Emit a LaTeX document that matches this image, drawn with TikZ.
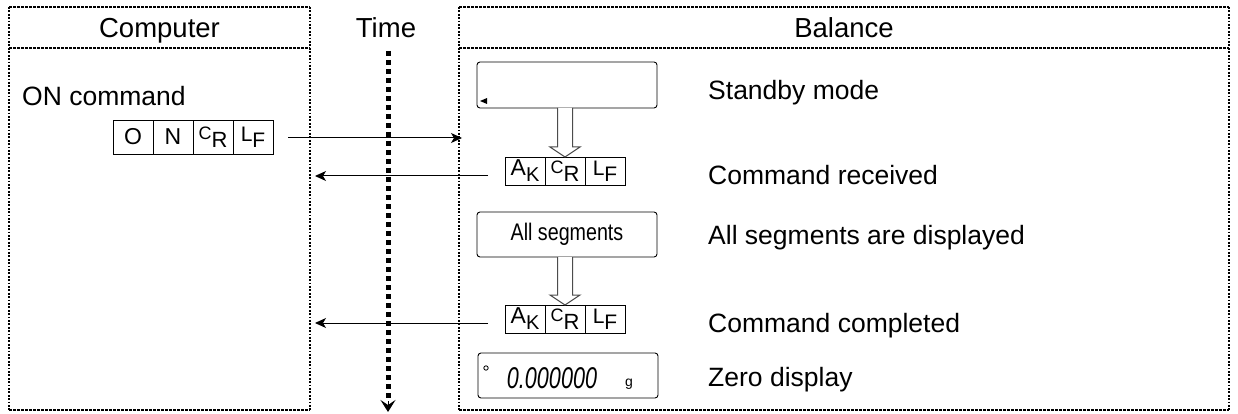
\documentclass[tikz,border=0pt]{standalone}
\usepackage{fontspec}
\setmainfont{Liberation Sans}
\usetikzlibrary{arrows.meta,calc}
\newcommand{\cellAK}{\raisebox{1pt}{A}\raisebox{-5pt}{\fontsize{20}{20}\selectfont K}}
\newcommand{\cellCR}{\raisebox{3pt}{\fontsize{18}{18}\selectfont C}\raisebox{-5pt}{\fontsize{22}{22}\selectfont R}}
\newcommand{\cellLF}{\raisebox{1pt}{\fontsize{21}{21}\selectfont L}\raisebox{-5pt}{\fontsize{21}{21}\selectfont F}}
\tikzset{
  hline/.style={line width=1.2pt, dash pattern=on 3pt off 1pt},
  vline/.style={line width=1.8pt, dash pattern=on 1.8pt off 1.6pt},
  frame/.style={inner sep=0pt, outer sep=0pt},
  hdr/.style={font=\fontsize{27.5}{31}\selectfont, inner sep=0pt, anchor=base},
  lbl/.style={font=\fontsize{26.5}{30}\selectfont, inner sep=0pt, anchor=base west},
  cell/.style={draw, line width=0.8pt, minimum width=40pt, minimum height=34pt, inner sep=0pt, outer sep=0pt, font=\fontsize{23}{27}\selectfont},
  kcell/.style={draw, line width=0.8pt, minimum width=40pt, minimum height=28pt, inner sep=0pt, outer sep=0pt, font=\fontsize{23}{27}\selectfont},
  disp/.style={draw, line width=0.9pt, rounded corners=3pt, minimum width=180pt, inner sep=0pt, outer sep=0pt},
  msg/.style={line width=1pt, -{Stealth[length=11pt,width=10pt,inset=3pt]}},
  hollow/.style={draw=black!70, line width=1pt, fill=white},
}
\begin{document}
\begin{tikzpicture}[x=1pt,y=-1pt]
\useasboundingbox (0,0) rectangle (1238,414);
% frames
\node[frame, minimum width=301pt, minimum height=41pt] (comph) at (159.5,27.5) {};
\node[frame, minimum width=301pt, minimum height=362pt] (compb) at (159.5,229) {};
\node[frame, minimum width=770pt, minimum height=41pt] (balh) at (844,27.5) {};
\node[frame, minimum width=770pt, minimum height=362pt] (balb) at (844,229) {};
\foreach \n in {comph,balh}{
  \draw[hline] (\n.north west) -- (\n.north east);
  \draw[hline] (\n.south west) -- (\n.south east);
  \draw[vline] (\n.north west) -- (\n.south west);
  \draw[vline] (\n.north east) -- (\n.south east);
}
\foreach \n in {compb,balb}{
  \draw[hline] (\n.south west) -- (\n.south east);
  \draw[vline] (\n.north west) -- (\n.south west);
  \draw[vline] (\n.north east) -- (\n.south east);
}
\node[hdr] (tcomp) at (159.5,38) {Computer};
\node[hdr] (tbal) at (844,38) {Balance};
\node[hdr] (ttime) at (386,38) {Time};
% time axis
\coordinate (t0) at (388,51);
\coordinate (t1) at (388,401);
\coordinate (t2) at (388,412);
\draw[line width=5pt, dash pattern=on 5pt off 4pt] (t0) -- (t1);
\draw[line width=1pt, -{Stealth[length=12pt,width=15pt,inset=5pt]}] (t1) -- (t2);
% computer side
\node[lbl] (oncmd) at (22,106) {ON command};
\node[cell] (c1) at (133,137) {O};
\node[cell, anchor=west] (c2) at (c1.east) {N};
\node[cell, anchor=west] (c3) at (c2.east) {\cellCR};
\node[cell, anchor=west] (c4) at (c3.east) {\cellLF};
% balance side
\node[disp, minimum height=46pt] (sb) at (567,85) {};
\fill (480,101) -- (487,98) -- (487,104) -- cycle;
\node[kcell] (k1b) at (565,171) {\cellCR};
\node[kcell, anchor=east] (k1a) at (k1b.west) {\cellAK};
\node[kcell, anchor=west] (k1c) at (k1b.east) {\cellLF};
\node[disp, minimum height=45pt] (as) at (567,234.5) {\fontsize{24}{28}\selectfont\scalebox{0.82}[1]{All segments}};
\node[kcell] (k2b) at (565,319) {\cellCR};
\node[kcell, anchor=east] (k2a) at (k2b.west) {\cellAK};
\node[kcell, anchor=west] (k2c) at (k2b.east) {\cellLF};
\node[disp, minimum height=45pt] (zd) at (568,375.5) {};
\draw[line width=0.8pt] (486,368) circle (2.2pt);
\node[inner sep=0pt, anchor=base] (zdig) at (552,388) {\fontsize{30}{30}\selectfont\itshape\scalebox{0.72}[1]{0.000000}};
\node[inner sep=0pt, anchor=base] (zg) at (629,386) {\fontsize{14}{14}\selectfont g};
% hollow arrows
\draw[hollow] ($(sb.south -| k1b.north)+(-7.5,0)$) -- ($(k1b.north)+(-7.5,-10)$) -- ($(k1b.north)+(-15,-10)$) -- (k1b.north) -- ($(k1b.north)+(15,-10)$) -- ($(k1b.north)+(7.5,-10)$) -- ($(sb.south -| k1b.north)+(7.5,0)$);
\draw[hollow] ($(as.south -| k2b.north)+(-7.5,0)$) -- ($(k2b.north)+(-7.5,-10)$) -- ($(k2b.north)+(-15,-10)$) -- (k2b.north) -- ($(k2b.north)+(15,-10)$) -- ($(k2b.north)+(7.5,-10)$) -- ($(as.south -| k2b.north)+(7.5,0)$);
% messages
\coordinate (a1s) at ($(c4.east)+(15,1)$);
\coordinate (a1e) at ($(balb.west |- a1s)+(3,0)$);
\draw[msg] (a1s) -- (a1e);
\coordinate (b1s) at ($(k1a.west)+(-17,5)$);
\coordinate (b1e) at ($(compb.east |- b1s)+(5,0)$);
\draw[msg] (b1s) -- (b1e);
\coordinate (b2s) at ($(k2a.west)+(-17,4)$);
\coordinate (b2e) at ($(compb.east |- b2s)+(5,0)$);
\draw[msg] (b2s) -- (b2e);
% right labels
\node[lbl] (l1) at (708,100) {Standby mode};
\node[lbl] (l2) at (708,185) {Command received};
\node[lbl] (l3) at (708,244) {All segments are displayed};
\node[lbl] (l4) at (708,332) {Command completed};
\node[lbl] (l5) at (708,386) {Zero display};
\end{tikzpicture}
\end{document}
